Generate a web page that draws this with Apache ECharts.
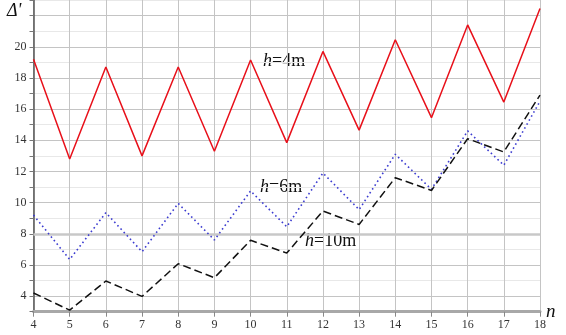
<!DOCTYPE html>
<html>
<head>
<meta charset="utf-8">
<script src="https://cdn.jsdelivr.net/npm/echarts@6/dist/echarts.min.js"></script>
<style>
html,body{margin:0;padding:0;background:#fff;}
#c{width:566px;height:335px;}
</style>
</head>
<body>
<div id="c"></div>
<script>
var nValues = [4,5,6,7,8,9,10,11,12,13,14,15,16,17,18];
var h4 = [19.2,12.8,18.7,13.0,18.7,13.3,19.15,13.85,19.7,14.65,20.45,15.45,21.4,16.45,22.45];
var h6 = [9.2,6.35,9.35,6.85,9.95,7.6,10.75,8.45,11.9,9.55,13.1,10.85,14.6,12.4,16.5];
var h10 = [4.2,3.1,4.97,3.98,6.08,5.18,7.58,6.76,9.46,8.6,11.6,10.78,14.1,13.25,16.9];
var yLabels = [4,6,8,10,12,14,16,18,20];
var seriesNames = ['h=4m','h=6m','h=10m'];

function pairs(ys){ return nValues.map(function(n,i){ return [n, ys[i]]; }); }

var chart = echarts.init(document.getElementById('c'), null, {renderer:'canvas'});
var serif = '"Liberation Serif","DejaVu Serif",serif';
chart.setOption({
  animation:false,
  backgroundColor:'#fff',
  grid:{left:33.5, right:26, top:-2.1, bottom:23.3, containLabel:false},
  xAxis:{
    type:'value', min:4, max:18, interval:1,
    axisLine:{show:true, onZero:false, lineStyle:{color:'#a8a8a8', width:3}},
    axisTick:{show:true, length:5, lineStyle:{color:'#888', width:1}},
    axisLabel:{color:'#333', fontFamily:serif, fontSize:12, margin:7},
    splitLine:{show:true, lineStyle:{color:'#c4c4c4', width:1}}
  },
  yAxis:{
    type:'value', min:3, max:23, interval:1,
    axisLine:{show:true, onZero:false, lineStyle:{color:'#555', width:1.5}},
    axisTick:{show:true, inside:false, length:4, lineStyle:{color:'#777', width:1}},
    axisLabel:{color:'#333', fontFamily:serif, fontSize:12, margin:7,
      formatter:function(v){ return yLabels.indexOf(v) >= 0 ? String(v) : ''; }},
    splitLine:{show:true, lineStyle:{color:['#e8e8e8','#c4c4c4'], width:1}}
  },
  series:[
    {name:seriesNames[0], type:'line', data:pairs(h4), symbol:'none',
     lineStyle:{color:'#e8101a', width:1.5}, z:3,
     markLine:{silent:true, symbol:'none', label:{show:false},
       lineStyle:{color:'#c8c8c8', width:2.5, type:'solid'}, data:[{yAxis:8}], z:1}},
    {name:seriesNames[1], type:'line', data:pairs(h6), symbol:'none',
     lineStyle:{color:'#3b3bd0', width:1.6, type:[1.6,3]}, z:4},
    {name:seriesNames[2], type:'line', data:pairs(h10), symbol:'none',
     lineStyle:{color:'#111', width:1.5, type:[8,4]}, z:5}
  ],
  graphic:[
    {type:'text', left:7, top:2, style:{text:'Δ\'', font:'italic 18px '+serif, fill:'#111'}},
    {type:'text', left:546, top:302, style:{text:'n', font:'italic 19px '+serif, fill:'#111'}},
    {type:'text', left:263, top:52, style:{
      text:'{i|h}{r|=4m}', rich:{i:{font:'italic 18px '+serif, fill:'#111'}, r:{font:'18px '+serif, fill:'#111'}}}},
    {type:'text', left:260, top:178, style:{
      text:'{i|h}{r|=6m}', rich:{i:{font:'italic 18px '+serif, fill:'#111'}, r:{font:'18px '+serif, fill:'#111'}}}},
    {type:'text', left:305, top:232, style:{
      text:'{i|h}{r|=10m}', rich:{i:{font:'italic 18px '+serif, fill:'#111'}, r:{font:'18px '+serif, fill:'#111'}}}}
  ]
});
</script>
</body>
</html>
